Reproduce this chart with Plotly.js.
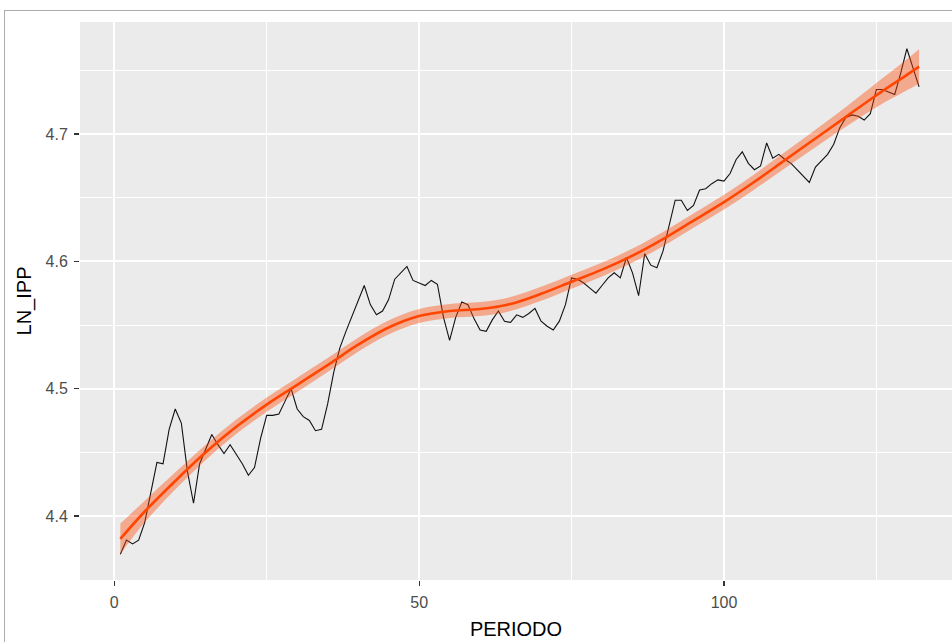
<!DOCTYPE html>
<html><head><meta charset="utf-8">
<script src="https://cdn.plot.ly/plotly-3.0.1.min.js"></script>
<style>
html,body{margin:0;padding:0;background:#fff;overflow:hidden}
#chart{position:absolute;left:0;top:0;width:952px;height:642px}
#frame{position:absolute;left:4px;top:10px;width:970px;height:660px;border-left:1px solid #ABABAB;border-top:1px solid #ABABAB;pointer-events:none}
</style></head><body>
<div id="chart"></div><div id="frame"></div>
<script>
// Observed series (PERIODO = 1..132)
const LN_IPP = [
 4.370,4.381,4.378,4.381,4.395,4.418,4.442,4.441,4.468,4.484,
 4.473,4.435,4.410,4.441,4.453,4.464,4.456,4.449,4.456,4.449,
 4.441,4.432,4.438,4.461,4.479,4.479,4.480,4.490,4.500,4.484,
 4.478,4.475,4.467,4.468,4.488,4.513,4.532,4.545,4.557,4.569,
 4.581,4.566,4.558,4.561,4.570,4.586,4.591,4.596,4.585,4.583,
 4.581,4.585,4.582,4.556,4.538,4.556,4.568,4.566,4.555,4.546,
 4.545,4.554,4.561,4.553,4.552,4.558,4.556,4.559,4.563,4.553,
 4.549,4.546,4.553,4.566,4.587,4.586,4.583,4.579,4.575,4.581,
 4.587,4.591,4.587,4.603,4.591,4.573,4.606,4.597,4.595,4.608,
 4.629,4.648,4.648,4.640,4.644,4.656,4.657,4.661,4.664,4.663,
 4.669,4.680,4.686,4.677,4.672,4.675,4.693,4.681,4.684,4.680,
 4.677,4.672,4.667,4.662,4.674,4.679,4.684,4.692,4.705,4.713,
 4.715,4.714,4.711,4.716,4.735,4.735,4.733,4.731,4.748,4.767,
 4.752,4.737
];
const PERIODO = LN_IPP.map((_, i) => i + 1);

// Smooth (loess) curve, with half-width of its confidence band
const fitPeriod = [1,5,10,15,20,25,30,35,40,45,50,55,60,65,70,75,80,85,90,95,100,105,110,115,120,125,130,132];
const fitValue  = [4.382,4.4035,4.4275,4.450,4.470,4.4875,4.503,4.5185,4.5345,4.548,4.557,4.561,4.5625,4.5665,4.5745,4.584,4.5935,4.6045,4.6175,4.632,4.6465,4.6625,4.6795,4.6965,4.7135,4.7305,4.7465,4.753];
const fitHalf   = [0.012,0.0085,0.0068,0.006,0.0057,0.0056,0.0056,0.0055,0.0055,0.0055,0.0055,0.0055,0.0055,0.0055,0.0055,0.0055,0.0055,0.0055,0.0056,0.0056,0.0058,0.006,0.0063,0.0068,0.0078,0.0095,0.0122,0.0135];

const xTicks = [0, 50, 100];
const yTicks = [4.4, 4.5, 4.6, 4.7];
const xTickText = ['0', '50', '100'];
const yTickText = ['4.4', '4.5', '4.6', '4.7'];

const lower = fitValue.map((v, i) => v - fitHalf[i]);
const upper = fitValue.map((v, i) => v + fitHalf[i]);

const FONT = 'Liberation Sans, Arial, sans-serif';

const traces = [
  {x: PERIODO, y: LN_IPP, type: 'scatter', mode: 'lines',
   line: {color: '#111111', width: 1.1}, hoverinfo: 'skip', showlegend: false},
  {x: fitPeriod, y: lower, type: 'scatter', mode: 'lines',
   line: {width: 0, shape: 'spline', color: 'rgba(0,0,0,0)'}, hoverinfo: 'skip', showlegend: false},
  {x: fitPeriod, y: upper, type: 'scatter', mode: 'lines', fill: 'tonexty',
   fillcolor: 'rgba(255,69,0,0.4)',
   line: {width: 0, shape: 'spline', color: 'rgba(0,0,0,0)'}, hoverinfo: 'skip', showlegend: false},
  {x: fitPeriod, y: fitValue, type: 'scatter', mode: 'lines',
   line: {color: '#FF4500', width: 2.6, shape: 'spline'}, hoverinfo: 'skip', showlegend: false}
];

const axisCommon = {
  showgrid: true, gridcolor: '#FFFFFF', gridwidth: 2,
  zeroline: false, showline: false,
  ticks: 'outside', ticklen: 5, tickwidth: 1.1, tickcolor: '#333333',
  tickfont: {family: FONT, size: 16, color: '#4D4D4D'},
  tickmode: 'array'
};

const layout = {
  width: 952, height: 642,
  margin: {l: 80, r: 0, t: 22, b: 62, pad: 0},
  paper_bgcolor: '#FFFFFF', plot_bgcolor: '#EBEBEB',
  showlegend: false,
  font: {family: FONT},
  xaxis: Object.assign({}, axisCommon, {
    range: [-5.62, 137.4],
    tickvals: xTicks, ticktext: xTickText,
    ticklabelstandoff: 3,
    minor: {tickvals: [25, 75, 125], showgrid: true, gridcolor: '#FFFFFF', gridwidth: 1, ticks: ''},
    title: {text: 'PERIODO', font: {family: FONT, size: 20, color: '#000000'}, standoff: 11}
  }),
  yaxis: Object.assign({}, axisCommon, {
    range: [4.3497, 4.788],
    tickvals: yTicks, ticktext: yTickText,
    minor: {tickvals: [4.35, 4.45, 4.55, 4.65, 4.75], showgrid: true, gridcolor: '#FFFFFF', gridwidth: 1, ticks: ''},
    ticklabelstandoff: 3,
    title: {text: 'LN_IPP', font: {family: FONT, size: 20, color: '#000000'}, standoff: 8}
  })
};

Plotly.newPlot('chart', traces, layout, {displayModeBar: false, staticPlot: true});
</script>
</body></html>
